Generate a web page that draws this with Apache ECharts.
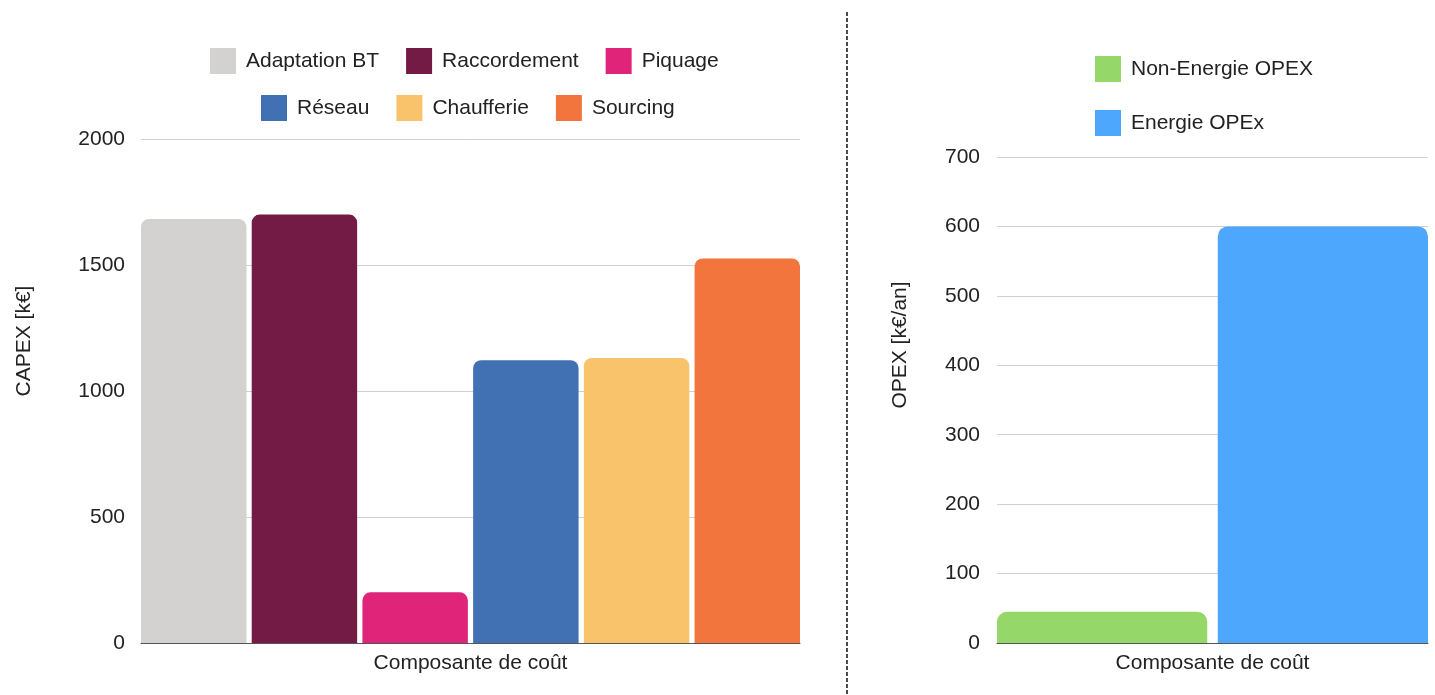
<!DOCTYPE html>
<html><head><meta charset="utf-8">
<script src="https://cdn.jsdelivr.net/npm/echarts@6/dist/echarts.min.js"></script>
<style>html,body{margin:0;padding:0;background:#fff}#c{width:1435px;height:695px}</style>
</head><body><div id="c"></div>
<script>
const capexNames = ['Adaptation BT','Raccordement','Piquage','Réseau','Chaufferie','Sourcing'];
const capexValues = [1683, 1700, 201, 1122, 1131, 1526];
const capexColors = ['#d3d2d0','#731b45','#e0247a','#4170b3','#f8c36a','#f3753e'];
const opexNames = ['Non-Energie OPEX','Energie OPEx'];
const opexValues = [45, 600];
const opexColors = ['#95d769','#4da8fd'];
const category = ['Composante de coût'];

const FONT = '"Liberation Sans", Arial, sans-serif';
const txt = {color:'#222', fontSize:21, fontFamily:FONT};

const series = [];
capexNames.forEach((n,i)=>series.push({
  name:n, type:'bar', xAxisIndex:0, yAxisIndex:0, data:[capexValues[i]],
  barGap:'5%', barCategoryGap:'0%',
  itemStyle:{color:capexColors[i], borderRadius:[8,8,0,0]}
}));
opexNames.forEach((n,i)=>series.push({
  name:n, type:'bar', xAxisIndex:1, yAxisIndex:1, data:[opexValues[i]],
  barGap:'5%', barCategoryGap:'0%',
  itemStyle:{color:opexColors[i], borderRadius:[10,10,0,0]}
}));

const legendCommon = {itemWidth:26, itemHeight:26, icon:'rect', itemGap:27,
  textStyle:Object.assign({}, txt, {padding:[0,0,0,5]})};

const option = {
  animation:false,
  textStyle:{fontFamily:FONT},
  legend:[
    Object.assign({}, legendCommon, {data:capexNames.slice(0,3), left:205, top:43}),
    Object.assign({}, legendCommon, {data:capexNames.slice(3), left:256, top:90}),
    Object.assign({}, legendCommon, {data:opexNames, orient:'vertical', left:1090, top:51, itemGap:28})
  ],
  grid:[
    {left:141, right:635, top:139, bottom:52},
    {left:997, right:7, top:157, bottom:52}
  ],
  xAxis:[
    {type:'category', gridIndex:0, data:category, axisLabel:{show:false}, axisTick:{show:false},
     axisLine:{lineStyle:{color:'#555'}},
     name:category[0], nameLocation:'middle', nameGap:10, nameTextStyle:txt},
    {type:'category', gridIndex:1, data:category, axisLabel:{show:false}, axisTick:{show:false},
     axisLine:{lineStyle:{color:'#555'}},
     name:category[0], nameLocation:'middle', nameGap:10, nameTextStyle:txt}
  ],
  yAxis:[
    {type:'value', gridIndex:0, min:0, max:2000, interval:500,
     axisLabel:Object.assign({}, txt, {margin:16, formatter:v=>String(v)}),
     splitLine:{lineStyle:{color:'#d0d0d0'}}, axisLine:{show:false}, axisTick:{show:false},
     name:'CAPEX [k€]', nameLocation:'middle', nameGap:106,
     nameTextStyle:Object.assign({}, txt, {padding:[0,0,0,100]})},
    {type:'value', gridIndex:1, min:0, max:700, interval:100,
     axisLabel:Object.assign({}, txt, {margin:17, formatter:v=>String(v)}),
     splitLine:{lineStyle:{color:'#d0d0d0'}}, axisLine:{show:false}, axisTick:{show:false},
     name:'OPEX [k€/an]', nameLocation:'middle', nameGap:86,
     nameTextStyle:Object.assign({}, txt, {padding:[0,0,0,110]})}
  ],
  graphic:[
    {type:'line', shape:{x1:847, y1:12, x2:847, y2:695},
     style:{stroke:'#111', lineWidth:1.5, lineDash:[4,2]}}
  ],
  series:series
};
echarts.init(document.getElementById('c')).setOption(option);
</script></body></html>
